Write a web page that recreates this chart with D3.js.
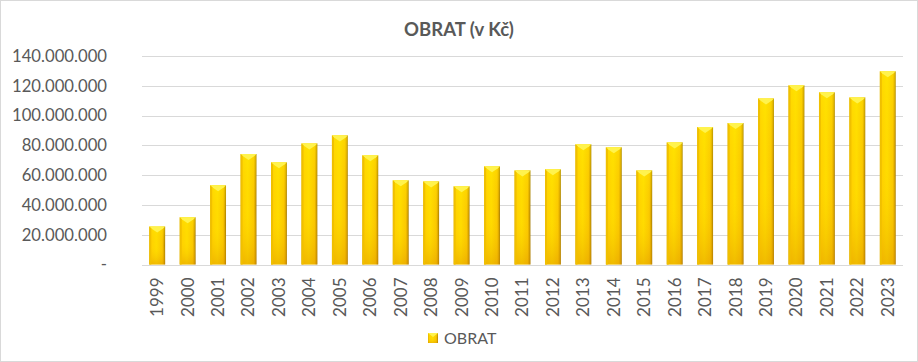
<!DOCTYPE html>
<html>
<head>
<meta charset="utf-8">
<script src="https://cdn.jsdelivr.net/npm/d3@7"></script>
<style>
  body { margin: 0; background: #fff; }
  svg { display: block; font-family: Lato, "Open Sans", sans-serif; }
</style>
</head>
<body>
<div id="chart"></div>
<script>
const years = ["1999","2000","2001","2002","2003","2004","2005","2006","2007","2008","2009","2010",
  "2011","2012","2013","2014","2015","2016","2017","2018","2019","2020","2021","2022","2023"];
const obrat = [25.5, 31.7, 53.2, 74.2, 68.6, 81.3, 86.7, 73.3, 56.5, 55.8, 52.5, 65.9,
  63.2, 63.9, 80.7, 78.7, 63.2, 82.0, 92.3, 95.0, 111.5, 120.3, 115.6, 112.2, 129.7].map(v => v * 1e6);
const yTicks = [0, 20e6, 40e6, 60e6, 80e6, 100e6, 120e6, 140e6];

const width = 918, height = 362;
const margin = {top: 56, right: 15, bottom: 97.5, left: 142};

const locale = d3.formatLocale({decimal: ",", thousands: ".", grouping: [3], currency: ["", ""]});
const fmt = v => v === 0 ? "-" : locale.format(",")(v);

const svg = d3.select("#chart").append("svg")
  .attr("width", width).attr("height", height);

svg.append("rect")
  .attr("x", 0.5).attr("y", 0.5)
  .attr("width", width - 1).attr("height", height - 1)
  .attr("fill", "#fff").attr("stroke", "#d9d9d9");

const defs = svg.append("defs");
const hg = defs.append("linearGradient").attr("id", "barH")
  .attr("x1", "0%").attr("x2", "100%").attr("y1", "0%").attr("y2", "0%");
[[0, "#d9a800"], [0.1, "#ffd000"], [0.45, "#ffdc00"], [0.82, "#fbc800"], [0.92, "#d9a400"], [1, "#9c7400"]]
  .forEach(([o, c]) => hg.append("stop").attr("offset", o).attr("stop-color", c));
const vg = defs.append("linearGradient").attr("id", "barV")
  .attr("x1", "0%").attr("x2", "0%").attr("y1", "0%").attr("y2", "100%");
[[0, "#fff200", 0.3], [0.5, "#ffd000", 0], [1, "#d88a00", 0.4]]
  .forEach(([o, c, a]) => vg.append("stop").attr("offset", o).attr("stop-color", c).attr("stop-opacity", a));

const x = d3.scaleBand()
  .domain(years)
  .range([margin.left, width - margin.right])
  .paddingInner(0.48).paddingOuter(0.24);

const y = d3.scaleLinear()
  .domain([0, 140e6])
  .range([height - margin.bottom, margin.top]);

// gridlines
svg.append("g")
  .selectAll("line")
  .data(yTicks)
  .join("line")
  .attr("x1", margin.left).attr("x2", width - margin.right)
  .attr("y1", d => Math.round(y(d)) + 0.5).attr("y2", d => Math.round(y(d)) + 0.5)
  .attr("stroke", "#d9d9d9");

// y axis labels
svg.append("g")
  .attr("transform", `translate(${margin.left - 35},0)`)
  .call(d3.axisLeft(y).tickValues(yTicks).tickFormat(fmt).tickSize(0).tickPadding(0))
  .call(g => g.select(".domain").remove())
  .call(g => g.selectAll("text")
    .attr("font-family", "Lato, sans-serif")
    .attr("font-size", 16.7).attr("fill", "#595959"));

// bars
const bars = svg.append("g").selectAll("g")
  .data(obrat)
  .join("g")
  .attr("transform", (d, i) => `translate(${x(years[i])},0)`);

bars.append("rect")
  .attr("y", d => y(d))
  .attr("width", x.bandwidth())
  .attr("height", d => y(0) - y(d))
  .attr("fill", "url(#barH)");

bars.append("rect")
  .attr("y", d => y(d))
  .attr("width", x.bandwidth())
  .attr("height", d => y(0) - y(d))
  .attr("fill", "url(#barV)");

// top bevel
const bw = x.bandwidth();
bars.append("path")
  .attr("d", d => `M0,${y(d)}L${bw},${y(d)}L${bw - 2},${y(d) + 2}L${bw / 2},${y(d) + 6}L2,${y(d) + 2}Z`)
  .attr("fill", "#fff34d");
bars.append("path")
  .attr("d", d => `M0,${y(d)}L2,${y(d) + 2}L2,${y(0)}L0,${y(0)}Z`)
  .attr("fill", "#f0c000");

// x axis labels
svg.append("g")
  .attr("transform", `translate(0,${y(0)})`)
  .call(d3.axisBottom(x).tickSize(0).tickPadding(0))
  .call(g => g.select(".domain").remove())
  .call(g => g.selectAll("text")
    .attr("font-family", "Lato, sans-serif")
    .attr("font-size", 17).attr("fill", "#595959")
    .attr("text-anchor", "end")
    .attr("transform", "rotate(-90)")
    .attr("x", -13).attr("y", 0).attr("dy", "0.35em"));

// title
svg.append("text")
  .attr("x", 459).attr("y", 36)
  .attr("text-anchor", "middle")
  .attr("font-size", 18.5).attr("font-weight", "bold")
  .attr("fill", "#595959")
  .text("OBRAT (v Kč)");

// legend
const legend = svg.append("g").attr("transform", "translate(428,333)");
legend.append("rect").attr("width", 10).attr("height", 10).attr("fill", "url(#barH)");
legend.append("rect").attr("width", 10).attr("height", 10).attr("fill", "url(#barV)");
legend.append("path").attr("d", "M0,0L10,0L5,4Z").attr("fill", "#fff34d");
legend.append("text")
  .attr("x", 16).attr("y", 5).attr("dy", "0.35em")
  .attr("font-size", 16).attr("fill", "#595959")
  .text("OBRAT");
</script>
</body>
</html>
